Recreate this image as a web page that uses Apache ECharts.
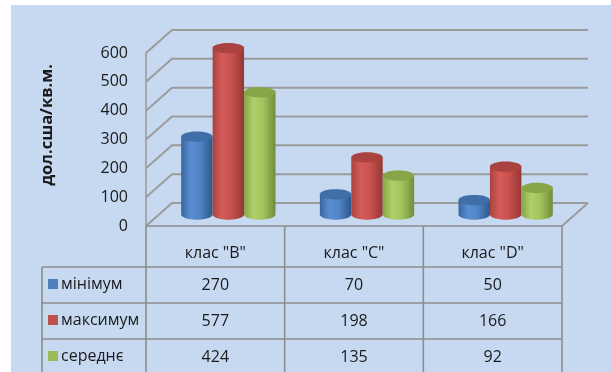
<!DOCTYPE html>
<html>
<head>
<meta charset="utf-8">
<script src="https://cdn.jsdelivr.net/npm/echarts@6/dist/echarts.min.js"></script>
<style>
  html, body { margin: 0; padding: 0; background: #ffffff; }
  #panel { position: absolute; left: 11px; top: 5px; width: 600px; height: 367px; background: #C6D9F1; }
  #chart { position: absolute; left: 0; top: 0; width: 611px; height: 372px; }
</style>
</head>
<body>
<div id="panel"></div>
<div id="chart"></div>
<script>
// Office space prices by building class
const categories = ['клас "B"', 'клас "C"', 'клас "D"'];
const seriesNames = ['мінімум', 'максимум', 'середнє'];
const minValues = [270, 70, 50];
const maxValues = [577, 198, 166];
const avgValues = [424, 135, 92];
const yTicks = [0, 100, 200, 300, 400, 500, 600];
const axisTitle = 'дол.сша/кв.м.';

const seriesValues = [minValues, maxValues, avgValues];

// depth of the pseudo-3D box (front plane -> back wall)
const DX = 26, DY = 23;
const FONT = '"Open Sans", "Noto Sans", sans-serif';
const TEXT = '#1a1a1a';
const GRID_LINE = '#9b9b9b';
const TABLE_LINE = '#8d8d8d';
const HEADER_H = 41, ROW_H = 36;

const palettes = [
  { key: '#4F81BD', top: '#3f6ea9', stops: ['#39659d', '#5a8ed2', '#5085c6', '#2f5788'] },
  { key: '#C0504D', top: '#aa423f', stops: ['#a84340', '#d55b58', '#c9514e', '#933835'] },
  { key: '#9BBB59', top: '#86a546', stops: ['#86a347', '#afd068', '#a2c35e', '#728c3b'] }
];

function ellipsePoints(cx, cy, rx, ry, a0, a1, n) {
  const pts = [];
  for (let i = 0; i <= n; i++) {
    const t = a0 + (a1 - a0) * i / n;
    pts.push([cx + rx * Math.cos(t), cy + ry * Math.sin(t)]);
  }
  return pts;
}

// box frame: side-wall and back-wall gridlines, floor
function renderFrame(params, api) {
  const v = api.value(1);
  const cs = params.coordSys;
  const y = api.coord([0, v])[1];
  const x0 = cs.x, x1 = cs.x + cs.width;
  const style = { stroke: GRID_LINE, lineWidth: 2, fill: null };
  const children = [{
    type: 'polyline',
    shape: { points: [[x0, y], [x0 + DX, y - DY], [x1 + DX, y - DY]] },
    style: style
  }];
  if (v === 0) {
    children.push({
      type: 'polyline',
      shape: { points: [[x1, y], [x1 + DX, y - DY]] },
      style: style
    });
    children.push({
      type: 'line',
      shape: { x1: x0, y1: y, x2: x1, y2: y },
      style: { stroke: TABLE_LINE, lineWidth: 1.6 }
    });
  }
  return { type: 'group', children: children };
}

// cylinder columns standing half-way into the box depth
function makeCylinderRenderer(sIdx) {
  const pal = palettes[sIdx];
  return function (params, api) {
    const idx = api.value(0);
    const val = api.value(1);
    const base = api.coord([idx, 0]);
    const top = api.coord([idx, val]);
    const band = api.size([1, 0])[0];
    const bw = band * 0.68 / 3;
    const rx = bw / 2, ry = bw * 0.165;
    const cx = base[0] + (sIdx - 1) * bw + DX / 2;
    const yb = base[1] - DY / 2;
    const yt = top[1] - DY / 2;
    const body = [[cx - rx, yt]]
      .concat(ellipsePoints(cx, yb, rx, ry, Math.PI, 0, 24))
      .concat([[cx + rx, yt]]);
    const grad = {
      type: 'linear', x: 0, y: 0, x2: 1, y2: 0,
      colorStops: [
        { offset: 0, color: pal.stops[0] },
        { offset: 0.3, color: pal.stops[1] },
        { offset: 0.6, color: pal.stops[2] },
        { offset: 1, color: pal.stops[3] }
      ]
    };
    return {
      type: 'group',
      children: [
        { type: 'polygon', shape: { points: body }, style: { fill: grad } },
        { type: 'polygon', shape: { points: ellipsePoints(cx, yt, rx, ry, 0, Math.PI * 2, 36) },
          style: { fill: pal.top } }
      ]
    };
  };
}

// data table columns under each category
function renderTableColumn(params, api) {
  const idx = api.value(0);
  const cs = params.coordSys;
  const c = api.coord([idx, 0]);
  const band = api.size([1, 0])[0];
  const yBottom = cs.y + cs.height;
  const xr = c[0] + band / 2;
  const children = [
    { type: 'line', shape: { x1: xr, y1: yBottom, x2: xr, y2: yBottom + HEADER_H + ROW_H * 3 + 2 },
      style: { stroke: TABLE_LINE, lineWidth: 1.6 } },
    { type: 'text', style: { text: categories[idx], x: c[0], y: yBottom + 27, align: 'center',
      verticalAlign: 'middle', fontSize: 16, fontFamily: FONT, fill: TEXT } }
  ];
  if (idx === 0) {
    const xl = c[0] - band / 2;
    children.push({ type: 'line', shape: { x1: xl, y1: yBottom, x2: xl, y2: yBottom + HEADER_H + ROW_H * 3 + 2 },
      style: { stroke: TABLE_LINE, lineWidth: 1.6 } });
  }
  for (let k = 0; k < seriesValues.length; k++) {
    children.push({ type: 'text', style: {
      text: String(seriesValues[k][idx]), x: c[0], y: yBottom + HEADER_H + ROW_H * k + ROW_H / 2,
      align: 'center', verticalAlign: 'middle', fontSize: 16, fontFamily: FONT, fill: TEXT } });
  }
  return { type: 'group', children: children };
}

// legend keys and row rules of the data table
const LEGEND_LEFT = 42;
function renderTableRow(params, api) {
  const k = api.value(1);
  const cs = params.coordSys;
  const yTop = cs.y + cs.height + HEADER_H + ROW_H * k;
  const yMid = yTop + ROW_H / 2;
  const children = [
    { type: 'line', shape: { x1: LEGEND_LEFT, y1: yTop, x2: cs.x + cs.width, y2: yTop },
      style: { stroke: TABLE_LINE, lineWidth: 1.6 } },
    { type: 'line', shape: { x1: LEGEND_LEFT, y1: yTop, x2: LEGEND_LEFT, y2: yTop + ROW_H + 2 },
      style: { stroke: TABLE_LINE, lineWidth: 1.6 } },
    { type: 'rect', shape: { x: LEGEND_LEFT + 6, y: yMid - 6, width: 10, height: 10 },
      style: { fill: palettes[k].key } },
    { type: 'text', style: { text: seriesNames[k], x: LEGEND_LEFT + 19, y: yMid - 1, align: 'left',
      verticalAlign: 'middle', fontSize: 16, fontFamily: FONT, fill: TEXT } }
  ];
  return { type: 'group', children: children };
}

const chart = echarts.init(document.getElementById('chart'), null, { renderer: 'canvas' });

const series = [
  {
    type: 'custom', name: 'frame', z: 1, clip: false, silent: true,
    renderItem: renderFrame,
    encode: { x: 0, y: 1 },
    data: yTicks.map(v => [0, v])
  }
];
seriesValues.forEach((vals, k) => {
  series.push({
    type: 'custom', name: seriesNames[k], z: 3, clip: false,
    renderItem: makeCylinderRenderer(k),
    encode: { x: 0, y: 1 },
    data: vals.map((v, i) => [i, v])
  });
});
series.push({
  type: 'custom', name: 'tableColumns', z: 2, clip: false, silent: true,
  renderItem: renderTableColumn,
  encode: { x: 0, y: 1 },
  data: categories.map((c, i) => [i, 0])
});
series.push({
  type: 'custom', name: 'tableRows', z: 2, clip: false, silent: true,
  renderItem: renderTableRow,
  encode: { x: 0, y: 1 },
  data: seriesNames.map((n, k) => [0, k])
});

chart.setOption({
  animation: false,
  backgroundColor: 'transparent',
  grid: { left: 146, top: 53, width: 416, height: 173, containLabel: false, outerBoundsMode: 'none' },
  xAxis: {
    type: 'category', data: categories, show: false, boundaryGap: true
  },
  yAxis: {
    type: 'value', min: 0, max: 600, interval: 100,
    axisLine: { show: true, lineStyle: { color: GRID_LINE, width: 1.6 } },
    axisTick: { show: false },
    splitLine: { show: false },
    axisLabel: {
      margin: 18, fontSize: 16, fontFamily: FONT, color: TEXT,
      padding: [5, 0, 0, 0],
      formatter: v => (yTicks.indexOf(v) >= 0 ? String(v) : '')
    }
  },
  graphic: [{
    type: 'text', x: 47, y: 125, rotation: Math.PI / 2,
    style: { text: axisTitle, align: 'center', verticalAlign: 'middle',
      fontSize: 16.5, fontWeight: 'bold', fontFamily: FONT, fill: TEXT }
  }],
  series: series
});
</script>
</body>
</html>
